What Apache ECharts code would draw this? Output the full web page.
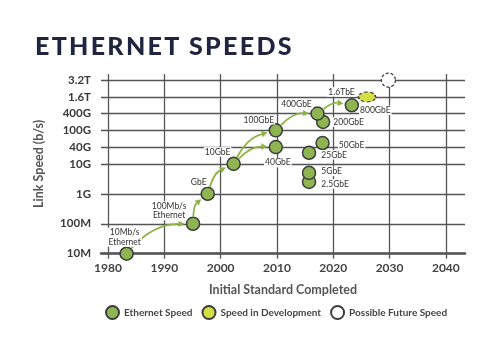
<!DOCTYPE html>
<html>
<head>
<meta charset="utf-8">
<script src="https://cdn.jsdelivr.net/npm/echarts@6/dist/echarts.min.js"></script>
<style>
  html, body { margin: 0; padding: 0; background: #fff; }
  #wrap { position: relative; width: 500px; height: 346px; }
  #chart { position: absolute; left: 0; top: 0; width: 500px; height: 346px; }
  #title {
    position: absolute; left: 35px; top: 30px; z-index: 2;
    font-family: Lato, "Open Sans", sans-serif; font-weight: 900;
    font-size: 25px; letter-spacing: 2.3px; color: #1f2440; white-space: nowrap;
  }
</style>
</head>
<body>
<div id="wrap">
  <div id="title">ETHERNET SPEEDS</div>
  <div id="chart"></div>
</div>
<script>
// Speed tick marks (bits per second) and their labels
const speedTicks = [1e7, 1e8, 1e9, 1e10, 4e10, 1e11, 4e11, 1.6e12, 3.2e12];
const speedTickLabels = ['10M', '100M', '1G', '10G', '40G', '100G', '400G', '1.6T', '3.2T'];
const yearTicks = [1980, 1990, 2000, 2010, 2020, 2030, 2040];

// Released Ethernet speeds
const stdNames = ['10Mb/s\nEthernet', '100Mb/s\nEthernet', 'GbE', '10GbE', '40GbE', '100GbE',
  '2.5GbE', '5GbE', '25GbE', '50GbE', '200GbE', '400GbE', '800GbE'];
const stdYears = [1983.3, 1995.1, 1997.7, 2002.3, 2009.8, 2009.8,
  2015.7, 2015.7, 2015.7, 2018.1, 2018.2, 2017.2, 2023.3];
const stdSpeeds = [1e7, 1e8, 1e9, 1e10, 4e10, 1e11,
  2.5e9, 5e9, 2.5e10, 5e10, 2e11, 4e11, 8e11];

// Speed in development
const devNames = ['1.6TbE'];
const devYears = [2026.0];
const devSpeeds = [1.6e12];

// Possible future speed
const futureYears = [2029.8];
const futureSpeeds = [3.2e12];

// Progression arrows (index into the released-speed arrays)
const arrowFrom = [0, 1, 2, 3, 3, 5, 11];
const arrowTo   = [1, 2, 3, 5, 4, 11, 12];

// Axis layout: decades below 10G share one step, the finer ticks above share a smaller one
const DECADE_STEP = 1, UPPER_STEP = 0.559;
const tickLevels = speedTicks.map((v, i) => i <= 3 ? i * DECADE_STEP : 3 + (i - 3) * UPPER_STEP);

// Piecewise-log scale from speed to axis level
function level(speed) {
  const ls = Math.log10(speed);
  for (let i = 0; i < speedTicks.length - 1; i++) {
    const a = Math.log10(speedTicks[i]), b = Math.log10(speedTicks[i + 1]);
    if (ls <= b + 1e-9) {
      const t = (ls - a) / (b - a);
      return tickLevels[i] + t * (tickLevels[i + 1] - tickLevels[i]);
    }
  }
  return tickLevels[tickLevels.length - 1];
}
function tickLabelFor(v) {
  let best = 0;
  tickLevels.forEach((l, i) => { if (Math.abs(l - v) < Math.abs(tickLevels[best] - v)) best = i; });
  return speedTickLabels[best];
}

// Label placement per standard
const labelPlacement = {
  '10Mb/s\nEthernet':  { position: 'inside', offset: [-2, -16.5] },
  '100Mb/s\nEthernet': { position: 'inside', offset: [-24, -13] },
  'GbE':    { position: 'inside', offset: [-9, -11.5] },
  '10GbE':  { position: 'inside', offset: [-16, -12] },
  '100GbE': { position: 'inside', offset: [-17, -10.5] },
  '40GbE':  { position: 'inside', offset: [2, 15.5] },
  '400GbE': { position: 'inside', offset: [-21, -9] },
  '200GbE': { position: 'right', distance: 2, offset: [0, 0] },
  '50GbE':  { position: 'right', distance: 8, offset: [0, 2] },
  '25GbE':  { position: 'right', distance: 4, offset: [0, 2] },
  '5GbE':   { position: 'right', distance: 4, offset: [0, -1.5] },
  '2.5GbE': { position: 'right', distance: 4, offset: [0, 2] },
  '800GbE': { position: 'right', distance: 0, offset: [0, 5] },
  '1.6TbE': { position: 'left', distance: 2, offset: [0, -5] }
};

const FONT = 'Lato, "Open Sans", sans-serif';
const GRID = '#555';
const GREEN = '#8fb552';
const ARROW = '#8cb443';
const R = 6.5;

const labelBase = {
  show: true, fontFamily: FONT, fontSize: 8.5, color: '#333', lineHeight: 9.5,
  backgroundColor: '#fff', padding: [0, 1]
};

const stdData = stdNames.map((n, i) => {
  const p = labelPlacement[n];
  return { name: n, value: [stdYears[i], level(stdSpeeds[i])],
    label: Object.assign({}, labelBase, p, { formatter: n }) };
});
const devData = devNames.map((n, i) => ({
  name: n, value: [devYears[i], level(devSpeeds[i])],
  label: Object.assign({}, labelBase, labelPlacement[n], { formatter: n })
}));
const futureData = futureYears.map((y, i) => [y, level(futureSpeeds[i])]);
const arrowData = arrowFrom.map((f, i) => [f, arrowTo[i]]);

function renderArrow(params, api) {
  const f = api.value(0), t = api.value(1);
  const p1 = api.coord([stdYears[f], level(stdSpeeds[f])]);
  const p2 = api.coord([stdYears[t], level(stdSpeeds[t])]);
  const dx = p2[0] - p1[0], dy = p2[1] - p1[1];
  const L = Math.hypot(dx, dy);
  const curv = 0.22;
  // bulge towards the upper-left side of the travel direction
  const c = [(p1[0] + p2[0]) / 2 + dy / L * curv * L, (p1[1] + p2[1]) / 2 - dx / L * curv * L];
  const unit = (a, b) => { const l = Math.hypot(b[0] - a[0], b[1] - a[1]); return [(b[0] - a[0]) / l, (b[1] - a[1]) / l]; };
  const u1 = unit(p1, c), u2 = unit(p2, c);
  const s = [p1[0] + u1[0] * (R + 1), p1[1] + u1[1] * (R + 1)];
  const e = [p2[0] + u2[0] * (R + 8), p2[1] + u2[1] * (R + 8)];
  const dir = unit(c, e);
  const tip = [e[0] + dir[0] * 6, e[1] + dir[1] * 6];
  const nx = -dir[1], ny = dir[0];
  const head = [
    tip,
    [e[0] + nx * 3.2, e[1] + ny * 3.2],
    [e[0] - nx * 3.2, e[1] - ny * 3.2]
  ];
  return {
    type: 'group',
    children: [
      { type: 'bezierCurve', shape: { x1: s[0], y1: s[1], x2: e[0], y2: e[1], cpx1: c[0], cpy1: c[1] },
        style: { stroke: ARROW, lineWidth: 1.8, fill: null } },
      { type: 'polygon', shape: { points: head }, style: { fill: ARROW } }
    ]
  };
}

const chart = echarts.init(document.getElementById('chart'), null, { renderer: 'canvas' });
chart.setOption({
  animation: false,
  grid: { left: 101, right: 35, top: 74, bottom: 92.3 },
  xAxis: {
    type: 'value', min: 1978.75, max: 2043.4,
    name: 'Initial Standard Completed', nameLocation: 'middle', nameGap: 30,
    nameTextStyle: { fontFamily: FONT, fontWeight: 'bold', fontSize: 12.5, color: '#555' },
    axisLine: { show: true, lineStyle: { color: GRID, width: 2.5 } },
    axisTick: { show: true, length: 5, lineStyle: { color: GRID, width: 1.3 }, customValues: yearTicks },
    axisLabel: { customValues: yearTicks, formatter: v => String(Math.round(v)), margin: 8,
      fontFamily: FONT, fontWeight: 'bold', fontSize: 12, color: '#444' },
    splitLine: { show: true, lineStyle: { color: GRID, width: 1.3 } }
  },
  yAxis: {
    type: 'value', min: 0, max: 6,
    name: 'Link Speed (b/s)', nameLocation: 'middle', nameGap: 56, nameRotate: 90,
    nameTextStyle: { fontFamily: FONT, fontWeight: 'bold', fontSize: 12.5, color: '#555' },
    axisLine: { show: false },
    axisTick: { show: false, customValues: tickLevels },
    axisLabel: { customValues: tickLevels, formatter: v => tickLabelFor(v), margin: 10,
      fontFamily: FONT, fontWeight: 'bold', fontSize: 11.5, color: '#3a3a3a' },
    splitLine: { show: true, lineStyle: { color: GRID, width: 1.3 } }
  },
  legend: {
    left: 100, top: 300, itemWidth: 13, itemHeight: 13, itemGap: 9,
    textStyle: { fontFamily: FONT, fontSize: 10, fontWeight: 'bold', color: '#444' },
    data: [
      { name: 'Ethernet Speed', icon: 'circle' },
      { name: 'Speed in Development', icon: 'circle' },
      { name: 'Possible Future Speed', icon: 'circle' }
    ]
  },
  series: [
    {
      type: 'custom', name: 'arrows', renderItem: renderArrow, data: arrowData, z: 2,
      encode: { x: -1, y: -1 }, silent: true
    },
    {
      type: 'scatter', name: 'Ethernet Speed', data: stdData, symbol: 'circle', symbolSize: 13, z: 3,
      itemStyle: { color: GREEN, borderColor: '#3d3d3d', borderWidth: 1.5, opacity: 1 }
    },
    {
      type: 'scatter', name: 'Speed in Development', data: devData,
      symbol: 'path://M0,5a8,5 0 1,0 16,0a8,5 0 1,0 -16,0z', symbolSize: [17, 10], z: 3,
      itemStyle: { color: '#d3df45', borderColor: '#3d3d3d', borderWidth: 1.3, borderType: [3, 2], opacity: 1 }
    },
    {
      type: 'scatter', name: 'Possible Future Speed', data: futureData, symbol: 'circle', symbolSize: 14, z: 3,
      itemStyle: { color: '#fff', borderColor: '#3d3d3d', borderWidth: 1.3, borderType: [3, 2], opacity: 1 }
    }
  ]
});
</script>
</body>
</html>
